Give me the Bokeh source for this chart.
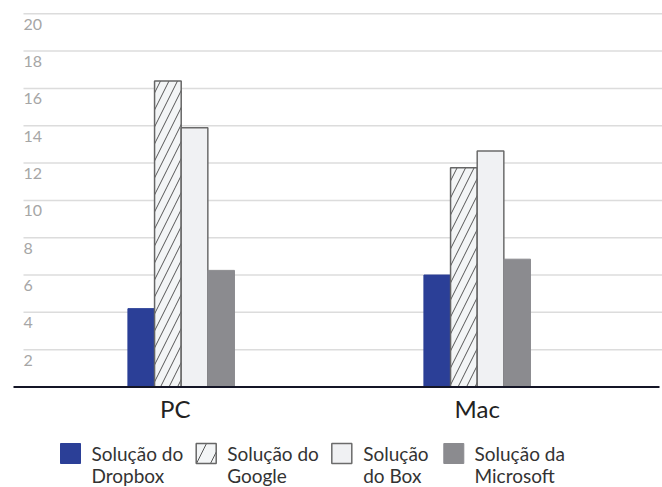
from bokeh.plotting import figure
from bokeh.models import ColumnDataSource, Range1d
from bokeh.core.properties import value
from bokeh.embed import file_html
from bokeh.resources import INLINE

# ---- data ----
groups = ["PC", "Mac"]
series = ["Solução do\nDropbox", "Solução do\nGoogle", "Solução\ndo Box", "Solução da\nMicrosoft"]
dropbox = [4.2, 6.0]
google = [16.4, 11.75]
box = [13.9, 12.65]
microsoft = [6.25, 6.85]
yticks = [2, 4, 6, 8, 10, 12, 14, 16, 18, 20]

W, H = 662, 487
# pixel <-> data mapping (layout)
PX_X0 = 180.7   # pixel of group 0
XS = 296.0      # pixels per group
PX_Y0 = 386.5   # pixel of y = 0
YS = 18.66      # pixels per unit

def dx(px):
    return (px - PX_X0) / XS

def dy(py):
    return (PX_Y0 - py) / YS

FONT = "Lato"

p = figure(width=W, height=H, output_backend="svg", toolbar_location=None,
           x_range=Range1d(dx(0), dx(W)), y_range=Range1d(dy(H), dy(0)),
           min_border=0, min_border_left=0, min_border_right=0,
           min_border_top=0, min_border_bottom=0)
p.axis.visible = False
p.grid.visible = False
p.outline_line_color = None
p.background_fill_color = "white"
p.border_fill_color = "white"

# grid lines
p.segment(x0=[dx(23)] * len(yticks), x1=[dx(W)] * len(yticks), y0=yticks, y1=yticks,
          line_color="#dcdcdc", line_width=1.5)

# tick labels (below grid line, left aligned)
p.text(x=[dx(23)] * len(yticks), y=[t - 10.5 / YS for t in yticks], text=[str(t) for t in yticks],
       text_font=value(FONT), text_font_size="16px", text_color="#a6a6a6",
       text_align="left", text_baseline="alphabetic")

# bars
bw = 0.09
offs = [-0.135, -0.045, 0.045, 0.135]
idx = list(range(len(groups)))
styles = [
    dict(fill_color="#2b3f97", line_color="#2b3f97", line_width=1),
    dict(fill_color="#f3f5f6", line_color="#666666", line_width=1.5,
         hatch_pattern="/", hatch_color="#555555", hatch_scale=17, hatch_weight=1),
    dict(fill_color="#f0f1f3", line_color="#6b6b6b", line_width=1.5),
    dict(fill_color="#8b8b8f", line_color="#8b8b8f", line_width=1),
]
vals = [dropbox, google, box, microsoft]
for k in range(4):
    src = ColumnDataSource(dict(x=[i + offs[k] for i in idx], top=vals[k]))
    p.vbar(x="x", top="top", bottom=0, width=bw, source=src, **styles[k])

# axis line
p.segment(x0=[dx(13)], x1=[dx(659)], y0=[0], y1=[0], line_color="#141526", line_width=2)

# category labels
p.text(x=idx, y=[dy(408)] * len(groups), text=groups, text_font=value(FONT),
       text_font_size="24px", text_color="#222222", text_align="center",
       text_baseline="alphabetic", x_offset=[-6, 0])

# legend
sq_cx = [70, 205.7, 341.3, 453.3]
tx = [91, 226.7, 362.7, 474]
for k in range(4):
    st = dict(styles[k])
    if k == 1:
        st["hatch_scale"] = 28
    p.rect(x=[dx(sq_cx[k])], y=[dy(453)], width=20, height=20,
           width_units="screen", height_units="screen", **st)
line1 = [s.split("\n")[0] for s in series]
line2 = [s.split("\n")[1] for s in series]
p.text(x=[dx(t) for t in tx], y=[dy(453)] * 4, text=line1, text_font=value(FONT),
       text_font_size="19px", text_color="#333333", text_align="left", text_baseline="alphabetic")
p.text(x=[dx(t) for t in tx], y=[dy(475)] * 4, text=line2, text_font=value(FONT),
       text_font_size="19px", text_color="#333333", text_align="left", text_baseline="alphabetic")

open("out.html", "w").write(file_html(p, INLINE))
